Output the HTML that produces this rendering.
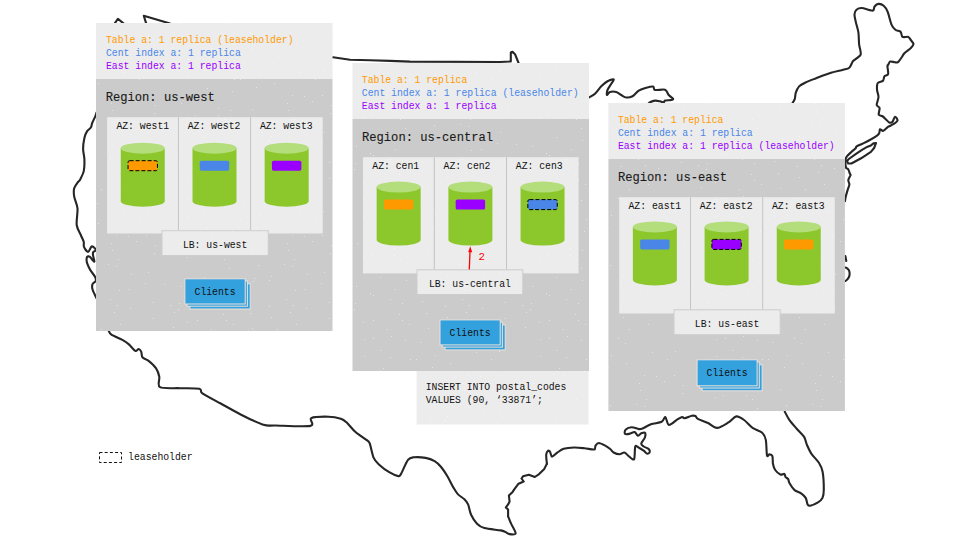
<!DOCTYPE html>
<html><head><meta charset="utf-8">
<style>
html,body{margin:0;padding:0;background:#fff;width:960px;height:540px;overflow:hidden;}
svg{display:block;}
text{font-family:"Liberation Mono", monospace;}
</style></head>
<body>
<svg width="960" height="540" viewBox="0 0 960 540">
<defs><pattern id="sp" width="176" height="140" patternUnits="userSpaceOnUse"><g fill="#ffffff" fill-opacity="0.5"><rect x="4" y="6" width="1" height="1"/><rect x="18" y="13" width="1" height="1"/><rect x="43" y="9" width="1" height="1"/><rect x="54" y="0" width="1" height="1"/><rect x="77" y="1" width="1" height="1"/><rect x="93" y="0" width="1" height="1"/><rect x="119" y="10" width="1" height="1"/><rect x="129" y="9" width="1" height="1"/><rect x="145" y="3" width="1" height="1"/><rect x="164" y="4" width="1" height="1"/><rect x="3" y="23" width="1" height="1"/><rect x="21" y="15" width="1" height="1"/><rect x="38" y="19" width="1" height="1"/><rect x="50" y="23" width="1" height="1"/><rect x="70" y="21" width="1" height="1"/><rect x="93" y="26" width="1" height="1"/><rect x="110" y="19" width="1" height="1"/><rect x="117" y="25" width="1" height="1"/><rect x="153" y="22" width="1" height="1"/><rect x="170" y="25" width="1" height="1"/><rect x="2" y="29" width="1" height="1"/><rect x="21" y="40" width="1" height="1"/><rect x="47" y="34" width="1" height="1"/><rect x="50" y="40" width="1" height="1"/><rect x="74" y="33" width="1" height="1"/><rect x="95" y="37" width="1" height="1"/><rect x="114" y="32" width="1" height="1"/><rect x="130" y="28" width="1" height="1"/><rect x="153" y="38" width="1" height="1"/><rect x="174" y="32" width="1" height="1"/><rect x="11" y="42" width="1" height="1"/><rect x="35" y="49" width="1" height="1"/><rect x="57" y="44" width="1" height="1"/><rect x="76" y="48" width="1" height="1"/><rect x="101" y="49" width="1" height="1"/><rect x="120" y="44" width="1" height="1"/><rect x="173" y="47" width="1" height="1"/><rect x="12" y="59" width="1" height="1"/><rect x="21" y="58" width="1" height="1"/><rect x="39" y="56" width="1" height="1"/><rect x="53" y="60" width="1" height="1"/><rect x="68" y="62" width="1" height="1"/><rect x="90" y="58" width="1" height="1"/><rect x="97" y="63" width="1" height="1"/><rect x="12" y="76" width="1" height="1"/><rect x="28" y="70" width="1" height="1"/><rect x="38" y="77" width="1" height="1"/><rect x="58" y="79" width="1" height="1"/><rect x="64" y="79" width="1" height="1"/><rect x="83" y="75" width="1" height="1"/><rect x="98" y="83" width="1" height="1"/><rect x="124" y="72" width="1" height="1"/><rect x="139" y="79" width="1" height="1"/><rect x="147" y="71" width="1" height="1"/><rect x="31" y="88" width="1" height="1"/><rect x="35" y="95" width="1" height="1"/><rect x="56" y="91" width="1" height="1"/><rect x="80" y="87" width="1" height="1"/><rect x="116" y="95" width="1" height="1"/><rect x="128" y="96" width="1" height="1"/><rect x="146" y="95" width="1" height="1"/><rect x="5" y="103" width="1" height="1"/><rect x="42" y="108" width="1" height="1"/><rect x="54" y="110" width="1" height="1"/><rect x="76" y="109" width="1" height="1"/><rect x="111" y="103" width="1" height="1"/><rect x="112" y="110" width="1" height="1"/><rect x="136" y="101" width="1" height="1"/><rect x="155" y="105" width="1" height="1"/><rect x="11" y="117" width="1" height="1"/><rect x="19" y="115" width="1" height="1"/><rect x="42" y="115" width="1" height="1"/><rect x="48" y="119" width="1" height="1"/><rect x="82" y="125" width="1" height="1"/><rect x="108" y="124" width="1" height="1"/><rect x="118" y="119" width="1" height="1"/><rect x="154" y="113" width="1" height="1"/><rect x="28" y="137" width="1" height="1"/><rect x="53" y="128" width="1" height="1"/><rect x="78" y="138" width="1" height="1"/><rect x="95" y="136" width="1" height="1"/><rect x="116" y="126" width="1" height="1"/><rect x="131" y="134" width="1" height="1"/><rect x="148" y="132" width="1" height="1"/></g></pattern></defs>
<g fill="none" stroke="#262626" stroke-width="2.1" stroke-linejoin="round" stroke-linecap="round">
<path d="M114.6,23.6 L117.9,18.75 L123.75,23.6"/>
<path d="M146.25,23.6 L143.75,15.8 L170,23.6"/>
<path d="M333,57.3 L350,59.8 L370,60.25 L390,60.9 L410,61.6 L500,62 L510.8,61.4 L510.8,52.5 L512.5,51.7 L515,54.2 L518.75,63.5"/>
<path d="M589.00,97.50 C589.90,96.94 593.16,95.44 595.00,93.75 C596.84,92.06 599.38,88.12 601.25,86.25 C603.12,84.38 605.62,82.28 607.50,81.25 C609.38,80.22 613.19,79.03 613.75,79.40 C614.31,79.78 612.19,82.16 611.25,83.75 C610.31,85.34 608.15,88.31 607.50,90.00 C606.85,91.69 606.52,94.72 606.90,95.00 C607.27,95.28 608.60,92.37 610.00,91.90 C611.40,91.44 614.56,91.44 616.25,91.90 C617.94,92.37 619.75,94.16 621.25,95.00 C622.75,95.84 624.56,97.31 626.25,97.50 C627.94,97.69 630.62,97.28 632.50,96.25 C634.38,95.22 636.69,91.88 638.75,90.60 C640.81,89.32 644.10,88.36 646.25,87.75 C648.40,87.14 651.79,86.16 653.10,86.50 C654.41,86.84 653.22,89.51 655.00,90.00 C656.78,90.49 662.94,89.00 665.00,89.75 C667.06,90.50 667.53,93.65 668.75,95.00 C669.97,96.35 672.73,98.00 673.10,98.75 C673.48,99.50 672.47,99.72 671.25,100.00 C670.03,100.28 666.12,100.22 665.00,100.60 C663.88,100.97 664.50,102.40 663.75,102.50 C663.00,102.60 661.31,101.53 660.00,101.25 C658.69,100.97 656.50,100.45 655.00,100.60 C653.50,100.75 651.05,101.74 650.00,102.25 C648.95,102.76 648.30,103.74 648.00,104.00"/>
<path d="M792.20,103.50 C792.59,102.80 794.26,100.42 794.80,98.80 C795.34,97.18 795.18,94.53 795.80,92.70 C796.41,90.87 797.44,88.13 798.90,86.60 C800.36,85.07 802.98,83.73 805.50,82.50 C808.02,81.27 811.88,79.86 815.70,78.40 C819.53,76.95 826.88,74.09 831.00,72.80 C835.12,71.51 840.46,70.56 843.20,69.80 C845.95,69.03 847.92,68.86 849.30,67.70 C850.68,66.55 851.71,63.21 852.40,62.10 C853.09,60.99 852.70,61.35 853.90,60.30 C855.10,59.25 859.42,56.55 860.40,55.10 C861.38,53.65 860.60,52.25 860.40,50.60 C860.20,48.95 859.40,46.83 859.10,44.10 C858.80,41.37 858.89,35.71 858.40,32.40 C857.90,29.08 856.38,24.71 855.80,22.00 C855.21,19.29 854.39,16.14 854.50,14.30 C854.61,12.46 855.42,10.64 856.50,9.70 C857.58,8.75 859.77,7.94 861.70,8.00 C863.63,8.06 867.66,9.74 869.40,10.10 C871.14,10.46 872.52,10.94 873.30,10.40 C874.08,9.86 873.82,7.47 874.60,6.50 C875.38,5.53 877.13,4.00 878.50,3.90 C879.87,3.79 882.34,4.63 883.70,5.80 C885.07,6.97 886.43,8.88 887.60,11.70 C888.77,14.52 890.33,21.89 891.50,24.60 C892.67,27.32 894.03,28.72 895.40,29.80 C896.76,30.88 899.53,30.73 900.60,31.80 C901.67,32.87 901.35,36.13 902.50,36.90 C903.65,37.66 907.04,36.41 908.30,36.90 C909.56,37.39 910.12,39.12 910.90,40.20 C911.68,41.28 913.50,42.93 913.50,44.10 C913.50,45.27 912.26,46.63 910.90,48.00 C909.53,49.37 905.75,51.85 904.40,53.20 C903.05,54.55 902.86,55.65 901.90,57.00 C900.94,58.35 899.07,61.42 898.00,62.20 C896.93,62.98 895.97,62.29 894.80,62.20 C893.63,62.11 891.19,61.21 890.20,61.60 C889.21,61.99 888.62,64.16 888.20,64.80 C887.78,65.44 887.41,64.51 887.40,65.90 C887.38,67.30 888.55,72.54 888.10,74.10 C887.65,75.66 885.16,75.31 884.40,76.30 C883.63,77.29 883.99,79.70 883.00,80.70 C882.01,81.70 878.70,81.67 877.80,83.00 C876.90,84.33 876.89,87.50 877.00,89.60 C877.11,91.70 878.54,94.69 878.50,97.00 C878.46,99.31 876.54,103.36 876.70,105.00 C876.87,106.64 879.29,106.46 879.60,107.90 C879.91,109.34 878.32,113.35 878.75,114.60 C879.18,115.85 881.44,115.56 882.50,116.25 C883.56,116.94 884.79,118.26 885.80,119.20 C886.80,120.14 888.20,122.12 889.20,122.50 C890.21,122.88 891.63,122.57 892.50,121.70 C893.37,120.83 894.25,116.89 895.00,116.70 C895.75,116.51 897.75,119.28 897.50,120.40 C897.25,121.53 894.68,123.26 893.30,124.20 C891.92,125.14 889.80,125.71 888.30,126.70 C886.80,127.69 884.54,130.43 883.30,130.80 C882.05,131.18 880.62,128.82 880.00,129.20 C879.38,129.57 879.70,132.31 879.20,133.30 C878.71,134.29 878.25,134.72 876.70,135.80 C875.16,136.88 871.04,139.31 868.90,140.50 C866.75,141.69 864.25,142.83 862.40,143.70 C860.55,144.57 857.62,145.61 856.60,146.30 C855.58,146.99 856.38,147.46 855.60,148.30 C854.82,149.14 852.70,150.69 851.40,151.90 C850.10,153.12 847.77,155.25 846.90,156.40 C846.03,157.56 845.75,157.95 845.60,159.60 C845.45,161.25 845.51,165.94 845.90,167.40 C846.29,168.86 847.59,168.33 848.20,169.30 C848.82,170.28 849.64,173.05 850.00,173.90 C850.36,174.75 850.86,174.09 850.60,175.00 C850.35,175.91 848.48,178.59 848.30,180.00 C848.12,181.41 849.48,182.99 849.40,184.40 C849.32,185.81 848.37,187.48 847.80,189.40 C847.23,191.32 846.02,195.44 845.60,197.20 C845.18,198.95 845.09,200.51 845.00,201.10"/>
<path d="M846.9,160.9 L848.2,163.5 L851.4,163.5 L861.1,158.3 L870.9,151.9 L874.1,148 L876,143.1 L873.5,143.4 L870.9,145.4 L867.6,146.7 L862.4,149.6 L856,153.8 L848.8,159 Z"/>
<path d="M845.3,256 L846.3,261"/>
<path d="M845.5,267.5 C850.5,269 851.5,277 845.5,281"/>
<path d="M784.80,411.70 C785.47,412.91 787.51,417.25 789.30,419.80 C791.08,422.35 794.48,426.13 796.70,428.70 C798.92,431.26 802.56,434.45 804.10,436.90 C805.64,439.34 805.89,442.45 807.00,445.00 C808.11,447.55 809.72,451.23 811.50,453.90 C813.28,456.57 817.24,460.13 818.90,462.80 C820.56,465.47 821.87,467.71 822.60,471.70 C823.34,475.69 823.81,485.47 823.80,489.40 C823.78,493.33 823.37,495.95 822.50,497.90 C821.63,499.85 819.85,501.23 818.00,502.40 C816.15,503.57 811.76,505.40 810.20,505.70 C808.64,506.00 808.27,505.57 807.60,504.40 C806.93,503.23 806.68,499.56 805.70,497.90 C804.73,496.23 802.76,494.47 801.10,493.30 C799.44,492.13 796.36,491.65 794.60,490.10 C792.85,488.56 790.36,484.65 789.40,483.00 C788.44,481.35 788.77,479.99 788.20,479.10 C787.63,478.22 786.19,477.88 785.60,477.10 C785.01,476.32 785.08,474.29 784.30,473.90 C783.52,473.51 781.76,475.08 780.40,474.50 C779.03,473.92 776.31,471.57 775.20,470.00 C774.09,468.43 773.42,466.08 773.00,464.00 C772.58,461.92 772.94,457.56 772.40,456.10 C771.86,454.65 770.21,454.39 769.40,454.30 C768.59,454.21 767.54,457.66 767.00,455.50 C766.46,453.34 766.52,443.32 765.80,439.90 C765.08,436.48 764.18,434.50 762.20,432.70 C760.22,430.90 755.32,429.80 752.60,427.90 C749.88,426.00 746.55,421.73 744.10,420.00 C741.65,418.27 738.64,416.04 736.30,416.40 C733.96,416.76 731.38,420.67 728.50,422.40 C725.62,424.12 720.18,427.81 717.10,427.90 C714.02,427.99 710.89,424.37 708.00,423.00 C705.11,421.63 699.69,419.85 697.80,418.80 C695.91,417.75 696.30,416.45 695.40,416.00 C694.50,415.55 693.42,415.47 691.80,415.80 C690.18,416.13 686.04,418.02 684.60,418.20 C683.16,418.38 683.28,416.82 682.20,417.00 C681.12,417.18 679.38,418.21 677.40,419.40 C675.42,420.58 670.82,425.26 669.00,424.90 C667.18,424.54 666.39,417.46 665.30,417.00 C664.20,416.54 663.86,420.70 661.70,421.80 C659.54,422.90 653.78,423.30 650.90,424.30 C648.02,425.31 644.30,427.78 642.50,428.50 C640.70,429.22 640.52,429.28 638.90,429.10 C637.28,428.92 633.70,427.21 631.70,427.30 C629.71,427.39 626.61,428.71 625.60,429.70 C624.60,430.69 624.45,433.27 625.00,433.90 C625.55,434.53 627.84,434.17 629.30,433.90 C630.75,433.63 633.44,431.83 634.70,432.10 C635.96,432.37 636.71,435.52 637.70,435.70 C638.69,435.88 640.22,433.75 641.30,433.30 C642.38,432.85 644.36,432.07 644.90,432.70 C645.44,433.33 645.44,435.88 644.90,437.50 C644.36,439.12 641.48,442.15 641.30,443.50 C641.12,444.85 642.62,445.69 643.70,446.50 C644.78,447.31 647.60,448.09 648.50,448.90 C649.40,449.71 649.88,451.18 649.70,451.90 C649.52,452.62 648.20,453.88 647.30,453.70 C646.40,453.52 644.96,451.60 643.70,450.70 C642.44,449.80 640.16,448.33 638.90,447.70 C637.64,447.07 636.02,444.79 635.30,446.50 C634.58,448.21 635.00,457.57 634.10,459.10 C633.20,460.63 630.75,457.69 629.30,456.70 C627.84,455.71 625.86,452.86 624.40,452.50 C622.94,452.14 621.22,454.30 619.60,454.30 C617.98,454.30 615.01,453.30 613.60,452.50 C612.19,451.70 611.46,450.03 610.20,449.00 C608.94,447.97 606.93,446.50 605.20,445.60 C603.48,444.70 600.16,443.00 598.70,443.00 C597.25,443.00 596.17,444.62 595.50,445.60 C594.83,446.58 595.85,449.11 594.20,449.50 C592.55,449.89 587.51,448.50 584.50,448.20 C581.49,447.90 577.22,447.41 574.10,447.50 C570.98,447.59 566.24,448.02 563.70,448.80 C561.17,449.58 558.96,451.53 557.20,452.70 C555.45,453.87 553.07,456.71 552.00,456.60 C550.93,456.50 550.67,452.88 550.10,452.00 C549.53,451.12 548.79,450.31 548.20,450.70 C547.62,451.09 546.40,452.65 546.20,454.60 C546.00,456.55 546.79,462.33 546.90,463.70"/>
<path d="M546.9,463.7 L544.3,468.9 L539.1,474.1 L534.8,477 L528.9,474.8 L523,476.3 L521.5,478.5 L523.7,481.5 L518.5,483.7 L514.1,489.6 L512.6,491.9 L508.9,495.6 L509.6,501.5 L508.1,504.4 L505.9,507.4 L508.1,509.6 L508.1,516.3"/>
<path d="M508.10,516.30 C508.55,517.41 509.98,521.15 511.10,523.70 C512.23,526.25 515.83,531.74 515.60,533.30 C515.38,534.86 511.16,534.31 509.60,534.10 C508.04,533.89 506.53,532.45 505.20,531.90 C503.87,531.35 503.82,530.97 500.70,530.40 C497.58,529.83 487.95,529.11 484.40,528.10 C480.84,527.10 479.00,525.70 477.00,523.70 C475.00,521.71 472.44,517.69 471.10,514.80 C469.77,511.90 469.11,506.72 468.10,504.40 C467.10,502.07 465.94,500.85 464.40,499.30 C462.85,497.75 459.47,495.89 457.80,494.10 C456.13,492.31 454.86,490.07 453.30,487.40 C451.74,484.73 449.23,479.36 447.40,476.30 C445.57,473.24 443.02,469.26 441.10,467.00 C439.18,464.74 436.94,462.56 434.60,461.20 C432.26,459.83 428.61,458.48 425.50,457.90 C422.39,457.31 416.52,457.00 413.90,457.30 C411.27,457.60 409.95,457.38 408.00,459.90 C406.05,462.42 402.35,471.67 400.90,474.10 C399.44,476.53 400.06,476.39 398.30,476.10 C396.55,475.81 392.11,473.95 389.20,472.20 C386.29,470.44 381.22,466.54 378.90,464.40 C376.57,462.25 375.06,461.00 373.70,457.90 C372.33,454.79 370.78,446.32 369.80,443.70 C368.82,441.07 369.34,442.15 367.20,440.40 C365.06,438.64 358.61,434.71 355.50,432.00 C352.39,429.29 348.70,424.30 346.50,422.30 C344.30,420.31 343.49,419.54 340.80,418.70 C338.12,417.86 333.03,416.79 328.60,416.70 C324.18,416.61 314.05,416.72 311.30,418.10 C308.56,419.48 315.64,424.79 310.30,425.90 C304.96,427.01 282.72,425.67 275.70,425.50 C268.68,425.33 268.69,426.42 263.50,424.80 C258.31,423.18 247.52,417.89 241.10,414.70 C234.68,411.50 226.50,406.71 220.70,403.50 C214.89,400.29 205.61,395.50 202.40,393.30 C199.19,391.10 202.66,389.56 199.30,388.80 C195.94,388.04 185.90,388.44 180.00,388.20 C174.10,387.96 163.10,388.91 160.00,387.20 C156.90,385.49 159.89,379.62 159.30,376.80 C158.72,373.98 157.75,370.83 156.10,368.40 C154.45,365.97 150.34,362.25 148.30,360.60 C146.26,358.95 143.56,358.75 142.50,357.40 C141.44,356.05 141.78,352.86 141.20,351.60 C140.61,350.34 139.48,349.11 138.60,349.00 C137.72,348.89 136.75,351.59 135.30,350.90 C133.85,350.21 130.84,346.05 128.90,344.40 C126.97,342.75 125.03,341.35 122.40,339.90 C119.78,338.44 113.44,336.03 111.40,334.70 C109.36,333.37 109.19,331.56 108.80,331.00"/>
<path d="M96.50,112.50 C96.35,113.00 96.14,114.22 95.50,115.80 C94.86,117.38 92.89,121.25 92.20,123.00 C91.51,124.75 91.68,126.24 90.90,127.50 C90.12,128.76 87.97,129.84 87.00,131.40 C86.03,132.96 84.99,135.28 84.40,137.90 C83.81,140.53 83.10,145.69 83.10,148.90 C83.10,152.11 84.30,156.00 84.40,159.30 C84.51,162.60 84.47,167.80 83.80,170.90 C83.12,174.00 80.73,178.38 79.90,180.00 C79.08,181.62 79.16,180.45 78.30,181.70 C77.44,182.94 74.81,186.05 74.20,188.30 C73.59,190.55 73.70,193.70 74.20,196.70 C74.70,199.70 77.12,204.06 77.50,208.30 C77.88,212.55 76.20,221.00 76.70,225.00 C77.20,229.00 79.75,232.48 80.80,235.00 C81.85,237.52 83.22,240.03 83.70,241.80 C84.18,243.57 83.34,245.29 84.00,246.80 C84.66,248.31 86.96,251.94 88.10,251.90 C89.24,251.86 90.56,247.03 91.60,246.50 C92.63,245.97 94.39,247.78 95.00,248.40 C95.61,249.02 95.98,250.03 95.70,250.60 C95.42,251.17 93.49,251.44 93.10,252.20 C92.71,252.96 92.90,254.33 93.10,255.70 C93.30,257.06 94.40,260.55 94.40,261.30 C94.40,262.05 93.76,261.36 93.10,260.70 C92.44,260.04 90.90,257.47 90.00,256.90 C89.10,256.33 87.58,256.13 87.10,256.90 C86.62,257.66 86.56,260.49 86.80,262.00 C87.04,263.51 88.04,265.59 88.70,267.00 C89.36,268.41 90.26,269.94 91.20,271.40 C92.14,272.85 94.31,275.29 95.00,276.70 C95.69,278.11 96.17,279.68 95.80,280.80 C95.42,281.93 93.00,282.94 92.50,284.20 C92.00,285.46 92.00,287.32 92.50,289.20 C93.00,291.07 95.12,295.23 95.80,296.70 C96.47,298.17 96.82,298.65 97.00,299.00"/>
</g>
<rect x="96.00" y="23.00" width="236.5" height="56" fill="#ececec"/>
<rect x="96.00" y="79.00" width="236.5" height="252" fill="#cbcbcb"/>
<rect x="96.00" y="23.00" width="236.5" height="308" fill="url(#sp)"/>
<text x="106.00" y="42.60" font-size="10.2" fill="#ff9900" text-anchor="start" textLength="187.52" lengthAdjust="spacingAndGlyphs" >Table a: 1 replica (leaseholder)</text>
<text x="106.00" y="55.60" font-size="10.2" fill="#4a86e8" text-anchor="start" textLength="134.78" lengthAdjust="spacingAndGlyphs" >Cent index a: 1 replica</text>
<text x="106.00" y="68.60" font-size="10.2" fill="#9900ff" text-anchor="start" textLength="134.78" lengthAdjust="spacingAndGlyphs" >East index a: 1 replica</text>
<text x="105.70" y="101.00" font-size="12.0" fill="#1a1a1a" text-anchor="start" textLength="109.20" lengthAdjust="spacingAndGlyphs" stroke="#1a1a1a" stroke-width="0.12" >Region: us-west</text>
<rect x="107.10" y="117.20" width="215.6" height="116.30" fill="#ececec"/>
<rect x="107.10" y="117.20" width="215.6" height="116.30" fill="url(#sp)"/>
<line x1="178.40" y1="117.20" x2="178.40" y2="230.25" stroke="#c3c3c3" stroke-width="1"/>
<line x1="250.60" y1="117.20" x2="250.60" y2="230.25" stroke="#c3c3c3" stroke-width="1"/>
<text x="116.40" y="129.00" font-size="10.2" fill="#111" text-anchor="start" textLength="52.74" lengthAdjust="spacingAndGlyphs" >AZ: west1</text>
<path d="M120.75,148.20 L120.75,201.20 A22.0,5.5 0 0 0 164.75,201.20 L164.75,148.20 Z" fill="#8cc72c"/>
<ellipse cx="142.75" cy="148.20" rx="22.0" ry="5.5" fill="#b4dd7c"/>
<rect x="128.05" y="160.70" width="29.4" height="10.0" rx="1.6" fill="#ff9900" stroke="#000" stroke-width="1" stroke-dasharray="4,2"/>
<text x="187.70" y="129.00" font-size="10.2" fill="#111" text-anchor="start" textLength="52.74" lengthAdjust="spacingAndGlyphs" >AZ: west2</text>
<path d="M192.50,148.20 L192.50,201.20 A22.0,5.5 0 0 0 236.50,201.20 L236.50,148.20 Z" fill="#8cc72c"/>
<ellipse cx="214.50" cy="148.20" rx="22.0" ry="5.5" fill="#b4dd7c"/>
<rect x="199.80" y="160.70" width="29.4" height="10.0" rx="1.6" fill="#4a86e8"/>
<text x="259.90" y="129.00" font-size="10.2" fill="#111" text-anchor="start" textLength="52.74" lengthAdjust="spacingAndGlyphs" >AZ: west3</text>
<path d="M264.65,148.20 L264.65,201.20 A22.0,5.5 0 0 0 308.65,201.20 L308.65,148.20 Z" fill="#8cc72c"/>
<ellipse cx="286.65" cy="148.20" rx="22.0" ry="5.5" fill="#b4dd7c"/>
<rect x="271.95" y="160.70" width="29.4" height="10.0" rx="1.6" fill="#9900ff"/>
<rect x="162.00" y="230.75" width="106.25" height="24.75" fill="#ececec" stroke="#cdcdcd" stroke-width="1"/>
<rect x="162.50" y="231.25" width="105.25" height="23.75" fill="url(#sp)"/>
<text x="182.89" y="247.85" font-size="10.2" fill="#111" text-anchor="start" textLength="64.46" lengthAdjust="spacingAndGlyphs" >LB: us-west</text>
<rect x="189.90" y="283.80" width="60.3" height="25.2" fill="#33a1de" stroke="#ece2dc" stroke-width="1"/>
<rect x="187.10" y="281.00" width="60.3" height="25.2" fill="#33a1de" stroke="#ece2dc" stroke-width="1"/>
<rect x="184.90" y="278.80" width="60.3" height="25.2" fill="#33a1de" stroke="#ece2dc" stroke-width="1"/>
<text x="194.54" y="295.20" font-size="10.2" fill="#111" text-anchor="start" textLength="41.02" lengthAdjust="spacingAndGlyphs" >Clients</text>
<rect x="352.50" y="63.00" width="236.5" height="56" fill="#ececec"/>
<rect x="352.50" y="119.00" width="236.5" height="252" fill="#cbcbcb"/>
<rect x="352.50" y="63.00" width="236.5" height="308" fill="url(#sp)"/>
<text x="361.80" y="82.60" font-size="10.2" fill="#ff9900" text-anchor="start" textLength="105.48" lengthAdjust="spacingAndGlyphs" >Table a: 1 replica</text>
<text x="361.80" y="95.60" font-size="10.2" fill="#4a86e8" text-anchor="start" textLength="216.82" lengthAdjust="spacingAndGlyphs" >Cent index a: 1 replica (leaseholder)</text>
<text x="361.80" y="108.60" font-size="10.2" fill="#9900ff" text-anchor="start" textLength="134.78" lengthAdjust="spacingAndGlyphs" >East index a: 1 replica</text>
<text x="362.00" y="141.00" font-size="12.0" fill="#1a1a1a" text-anchor="start" textLength="131.04" lengthAdjust="spacingAndGlyphs" stroke="#1a1a1a" stroke-width="0.12" >Region: us-central</text>
<rect x="363.00" y="157.20" width="215.6" height="116.20" fill="#ececec"/>
<rect x="363.00" y="157.20" width="215.6" height="116.20" fill="url(#sp)"/>
<line x1="434.30" y1="157.20" x2="434.30" y2="269.30" stroke="#c3c3c3" stroke-width="1"/>
<line x1="506.50" y1="157.20" x2="506.50" y2="269.30" stroke="#c3c3c3" stroke-width="1"/>
<text x="372.30" y="169.00" font-size="10.2" fill="#111" text-anchor="start" textLength="46.88" lengthAdjust="spacingAndGlyphs" >AZ: cen1</text>
<path d="M376.65,187.10 L376.65,240.10 A22.0,5.5 0 0 0 420.65,240.10 L420.65,187.10 Z" fill="#8cc72c"/>
<ellipse cx="398.65" cy="187.10" rx="22.0" ry="5.5" fill="#b4dd7c"/>
<rect x="383.95" y="199.60" width="29.4" height="10.0" rx="1.6" fill="#ff9900"/>
<text x="443.60" y="169.00" font-size="10.2" fill="#111" text-anchor="start" textLength="46.88" lengthAdjust="spacingAndGlyphs" >AZ: cen2</text>
<path d="M448.40,187.10 L448.40,240.10 A22.0,5.5 0 0 0 492.40,240.10 L492.40,187.10 Z" fill="#8cc72c"/>
<ellipse cx="470.40" cy="187.10" rx="22.0" ry="5.5" fill="#b4dd7c"/>
<rect x="455.70" y="199.60" width="29.4" height="10.0" rx="1.6" fill="#9900ff"/>
<text x="515.80" y="169.00" font-size="10.2" fill="#111" text-anchor="start" textLength="46.88" lengthAdjust="spacingAndGlyphs" >AZ: cen3</text>
<path d="M520.55,187.10 L520.55,240.10 A22.0,5.5 0 0 0 564.55,240.10 L564.55,187.10 Z" fill="#8cc72c"/>
<ellipse cx="542.55" cy="187.10" rx="22.0" ry="5.5" fill="#b4dd7c"/>
<rect x="527.85" y="199.60" width="29.4" height="10.0" rx="1.6" fill="#4a86e8" stroke="#000" stroke-width="1" stroke-dasharray="4,2"/>
<rect x="417.00" y="269.80" width="105.80" height="24.70" fill="#ececec" stroke="#cdcdcd" stroke-width="1"/>
<rect x="417.50" y="270.30" width="104.80" height="23.70" fill="url(#sp)"/>
<text x="428.88" y="286.90" font-size="10.2" fill="#111" text-anchor="start" textLength="82.04" lengthAdjust="spacingAndGlyphs" >LB: us-central</text>
<path d="M469.3,269.5 L470.0,251.5" stroke="#ff0000" stroke-width="1.3" fill="none"/>
<path d="M470.2,246.2 L468.2,252.2 L472.2,252.2 Z" fill="#ff0000"/>
<text x="478.60" y="260.20" font-size="10.8" fill="#ff0000" text-anchor="start" >2</text>
<rect x="445.00" y="324.90" width="60.2" height="25.0" fill="#33a1de" stroke="#ece2dc" stroke-width="1"/>
<rect x="442.20" y="322.10" width="60.2" height="25.0" fill="#33a1de" stroke="#ece2dc" stroke-width="1"/>
<rect x="440.00" y="319.90" width="60.2" height="25.0" fill="#33a1de" stroke="#ece2dc" stroke-width="1"/>
<text x="449.59" y="336.30" font-size="10.2" fill="#111" text-anchor="start" textLength="41.02" lengthAdjust="spacingAndGlyphs" >Clients</text>
<rect x="608.40" y="103.00" width="236.5" height="56" fill="#ececec"/>
<rect x="608.40" y="159.00" width="236.5" height="252" fill="#cbcbcb"/>
<rect x="608.40" y="103.00" width="236.5" height="308" fill="url(#sp)"/>
<text x="617.90" y="122.60" font-size="10.2" fill="#ff9900" text-anchor="start" textLength="105.48" lengthAdjust="spacingAndGlyphs" >Table a: 1 replica</text>
<text x="617.90" y="135.60" font-size="10.2" fill="#4a86e8" text-anchor="start" textLength="134.78" lengthAdjust="spacingAndGlyphs" >Cent index a: 1 replica</text>
<text x="617.90" y="148.60" font-size="10.2" fill="#9900ff" text-anchor="start" textLength="216.82" lengthAdjust="spacingAndGlyphs" >East index a: 1 replica (leaseholder)</text>
<text x="617.90" y="181.00" font-size="12.0" fill="#1a1a1a" text-anchor="start" textLength="109.20" lengthAdjust="spacingAndGlyphs" stroke="#1a1a1a" stroke-width="0.12" >Region: us-east</text>
<rect x="619.20" y="197.20" width="215.6" height="116.30" fill="#ececec"/>
<rect x="619.20" y="197.20" width="215.6" height="116.30" fill="url(#sp)"/>
<line x1="690.50" y1="197.20" x2="690.50" y2="309.30" stroke="#c3c3c3" stroke-width="1"/>
<line x1="762.70" y1="197.20" x2="762.70" y2="309.30" stroke="#c3c3c3" stroke-width="1"/>
<text x="628.50" y="209.00" font-size="10.2" fill="#111" text-anchor="start" textLength="52.74" lengthAdjust="spacingAndGlyphs" >AZ: east1</text>
<path d="M632.85,226.90 L632.85,279.90 A22.0,5.5 0 0 0 676.85,279.90 L676.85,226.90 Z" fill="#8cc72c"/>
<ellipse cx="654.85" cy="226.90" rx="22.0" ry="5.5" fill="#b4dd7c"/>
<rect x="640.15" y="239.40" width="29.4" height="10.0" rx="1.6" fill="#4a86e8"/>
<text x="699.80" y="209.00" font-size="10.2" fill="#111" text-anchor="start" textLength="52.74" lengthAdjust="spacingAndGlyphs" >AZ: east2</text>
<path d="M704.60,226.90 L704.60,279.90 A22.0,5.5 0 0 0 748.60,279.90 L748.60,226.90 Z" fill="#8cc72c"/>
<ellipse cx="726.60" cy="226.90" rx="22.0" ry="5.5" fill="#b4dd7c"/>
<rect x="711.90" y="239.40" width="29.4" height="10.0" rx="1.6" fill="#9900ff" stroke="#000" stroke-width="1" stroke-dasharray="4,2"/>
<text x="772.00" y="209.00" font-size="10.2" fill="#111" text-anchor="start" textLength="52.74" lengthAdjust="spacingAndGlyphs" >AZ: east3</text>
<path d="M776.75,226.90 L776.75,279.90 A22.0,5.5 0 0 0 820.75,279.90 L820.75,226.90 Z" fill="#8cc72c"/>
<ellipse cx="798.75" cy="226.90" rx="22.0" ry="5.5" fill="#b4dd7c"/>
<rect x="784.05" y="239.40" width="29.4" height="10.0" rx="1.6" fill="#ff9900"/>
<rect x="674.00" y="309.80" width="106.20" height="24.90" fill="#ececec" stroke="#cdcdcd" stroke-width="1"/>
<rect x="674.50" y="310.30" width="105.20" height="23.90" fill="url(#sp)"/>
<text x="694.87" y="326.90" font-size="10.2" fill="#111" text-anchor="start" textLength="64.46" lengthAdjust="spacingAndGlyphs" >LB: us-east</text>
<rect x="702.10" y="364.80" width="60.0" height="26.0" fill="#33a1de" stroke="#ece2dc" stroke-width="1"/>
<rect x="699.30" y="362.00" width="60.0" height="26.0" fill="#33a1de" stroke="#ece2dc" stroke-width="1"/>
<rect x="697.10" y="359.80" width="60.0" height="26.0" fill="#33a1de" stroke="#ece2dc" stroke-width="1"/>
<text x="706.59" y="376.20" font-size="10.2" fill="#111" text-anchor="start" textLength="41.02" lengthAdjust="spacingAndGlyphs" >Clients</text>
<rect x="416.6" y="371" width="171.9" height="53.5" fill="#ececec"/>
<rect x="416.6" y="371" width="171.9" height="53.5" fill="url(#sp)"/>
<text x="425.70" y="390.00" font-size="10.2" fill="#111" text-anchor="start" textLength="140.64" lengthAdjust="spacingAndGlyphs" >INSERT INTO postal_codes</text>
<text x="425.70" y="403.00" font-size="10.2" fill="#111" text-anchor="start" textLength="117.20" lengthAdjust="spacingAndGlyphs" >VALUES (90, ‘33871’;</text>
<rect x="99.5" y="452.5" width="22" height="10" fill="none" stroke="#111" stroke-width="1" stroke-dasharray="3,2.2"/>
<text x="128.10" y="460.30" font-size="10.2" fill="#111" text-anchor="start" textLength="64.46" lengthAdjust="spacingAndGlyphs" >leaseholder</text>
</svg>
</body></html>
